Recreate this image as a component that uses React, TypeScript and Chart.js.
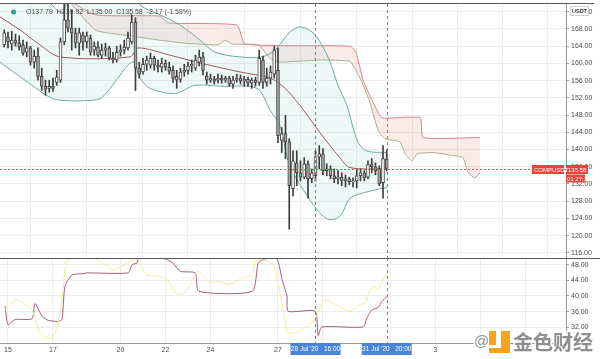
import React, { useEffect, useRef } from 'react';
import { Chart, registerables } from 'chart.js';
Chart.register(...registerables);

// ---- axis ticks (x in 4h-bar index units; bar 1 = 15 Jul 00:00) ----
const dayTicks = [1, 13, 31, 43, 55, 73, 85, 103, 115, 127, 139];
const dayLabels = ['15', '17', '20', '22', '24', '27', '', '', '3', '', ''];
const priceTicks = [116, 120, 124, 128, 132, 136, 140, 144, 148, 152, 156, 160, 164, 168, 172];
const oscTicks = [32, 36, 40, 44, 48];
const crosshairBars = [83, 102];
const crosshairLabels = ["28 Jul '20   16:00", "31 Jul '20   20:00"];
const lastPrice = 135.58;
const legendText = 'O137.79  H139.92  L135.00  C135.58  -2.17 (-1.58%)';

// ---- candles (4h) ----
const opens = [
  164.3, 166.1, 164.5, 165.4, 164.7, 164.3, 162.6, 163.6, 160.3, 161.7,
  157.0, 154.7, 154.2, 154.7, 155.6, 156.1, 165.0, 170.1, 168.2, 167.1,
  164.7, 166.6, 165.0, 165.9, 163.1, 163.8, 161.9, 163.1, 163.6, 161.2,
  160.8, 162.6, 163.1, 163.6, 165.0, 169.6, 158.9, 158.0, 159.8, 159.6,
  161.2, 159.6, 159.1, 160.1, 159.1, 158.4, 157.0, 156.3, 158.0, 158.4,
  159.4, 158.9, 160.3, 161.5, 157.0, 156.1, 156.3, 156.1, 156.6, 156.1,
  156.6, 155.2, 156.1, 156.6, 155.9, 156.3, 155.4, 156.1, 155.6, 160.8,
  155.6, 156.6, 157.5, 158.4, 142.1, 143.7, 141.8, 130.9, 136.9, 134.6,
  133.6, 136.7, 133.2, 133.9, 138.3, 139.0, 135.1, 135.5, 133.9, 133.2,
  133.6, 132.7, 133.2, 132.5, 132.7, 133.9, 134.6, 133.6, 136.5, 136.0,
  135.5, 132.3, 137.79,
];
const closes = [
  167.1, 165.0, 165.4, 164.7, 163.8, 162.4, 163.6, 160.3, 161.7, 157.0,
  154.7, 154.0, 154.7, 154.2, 156.8, 165.0, 170.1, 168.2, 167.1, 164.7,
  167.1, 165.0, 166.4, 162.6, 164.0, 161.9, 163.1, 163.6, 161.2, 160.8,
  162.6, 163.1, 163.8, 165.9, 169.6, 158.9, 157.5, 159.8, 160.8, 161.2,
  159.6, 159.1, 160.1, 159.1, 158.2, 156.6, 156.1, 158.0, 158.4, 159.4,
  159.8, 160.8, 161.5, 158.4, 156.1, 156.6, 155.9, 156.6, 156.1, 156.6,
  155.2, 156.1, 156.6, 155.9, 156.3, 155.4, 156.1, 155.6, 161.2, 155.6,
  156.6, 158.0, 163.1, 143.2, 143.7, 141.8, 131.6, 137.4, 134.6, 133.6,
  136.7, 133.2, 134.6, 138.3, 139.0, 135.1, 135.5, 133.9, 133.2, 133.6,
  132.7, 133.2, 132.5, 132.7, 133.9, 134.6, 133.4, 136.5, 136.0, 135.1,
  132.0, 137.9, 135.58,
];
const highs = [
  167.8, 167.3, 167.5, 166.8, 166.4, 165.4, 165.0, 164.0, 163.1, 163.6,
  158.9, 156.1, 156.1, 156.6, 158.4, 165.9, 174.1, 174.8, 172.4, 168.2,
  168.2, 167.3, 167.3, 166.6, 165.0, 165.0, 164.5, 164.7, 164.0, 162.6,
  164.0, 164.3, 165.4, 167.3, 171.3, 170.6, 160.3, 161.2, 161.7, 162.4,
  161.7, 160.8, 161.2, 160.8, 160.3, 159.4, 158.4, 158.9, 159.8, 160.3,
  160.8, 161.9, 163.1, 162.6, 158.0, 157.5, 157.0, 157.5, 157.3, 157.0,
  157.0, 157.0, 157.5, 157.3, 157.0, 156.8, 156.6, 156.8, 163.1, 161.7,
  158.9, 159.4, 164.0, 163.6, 145.1, 147.9, 142.5, 139.7, 139.7, 137.4,
  138.1, 137.4, 135.5, 139.7, 140.9, 140.2, 136.7, 136.2, 135.5, 135.1,
  134.6, 134.1, 133.6, 133.4, 135.5, 135.5, 135.1, 137.4, 137.9, 136.9,
  136.2, 140.9, 139.92,
];
const lows = [
  163.8, 163.6, 163.1, 164.0, 163.1, 161.9, 161.5, 159.6, 158.9, 156.1,
  153.7, 152.6, 153.3, 153.5, 154.9, 155.6, 164.3, 167.3, 163.1, 163.6,
  161.9, 163.1, 163.6, 161.9, 161.9, 161.5, 161.2, 161.7, 160.8, 160.1,
  160.3, 161.7, 162.2, 163.1, 164.5, 153.7, 156.6, 157.5, 158.4, 158.9,
  158.4, 158.0, 158.0, 158.4, 157.5, 155.6, 154.2, 155.6, 157.0, 157.5,
  158.0, 158.4, 159.4, 157.3, 155.2, 155.6, 155.2, 155.4, 155.4, 155.6,
  154.7, 154.2, 155.6, 155.2, 154.7, 154.7, 154.2, 154.7, 154.9, 154.2,
  154.7, 155.2, 156.6, 141.6, 139.3, 137.9, 121.5, 129.2, 131.6, 132.7,
  133.2, 128.7, 132.3, 132.7, 135.5, 134.1, 133.9, 133.2, 132.3, 132.0,
  131.6, 131.3, 131.8, 131.3, 131.1, 132.7, 132.7, 133.2, 134.6, 134.1,
  131.6, 128.7, 135.0,
];

// ---- Bollinger bands ----
const bbUpperX = [-1.13, 10.9, 13.5, 15.4, 16.5, 17.5, 33.5, 36.2, 41.5, 46.9, 52.2, 56.2, 62.9, 68.7, 72.2, 76.2, 78.9, 82.1, 84.7, 86.9, 89.0, 91.4, 94.1, 96.5, 102.1];
const bbUpper = [181.8, 175.2, 172.9, 171.7, 173.6, 179.4, 178.3, 173.6, 171.3, 168.9, 165.4, 162.6, 161.5, 161.5, 163.1, 167.3, 168.5, 167.3, 164.3, 160.3, 154.9, 150.2, 142.1, 139.7, 139.3];
const bbLowerX = [-1.13, 5.5, 12.2, 15.7, 22.9, 26.1, 33.0, 34.6, 36.2, 38.9, 45.5, 50.9, 57.5, 67.4, 70.9, 73.5, 76.2, 82.3, 86.3, 89.5, 92.2, 94.9, 100.2, 102.1];
const bbLower = [160.3, 156.1, 152.1, 151.4, 151.4, 152.1, 159.6, 160.3, 156.6, 154.2, 153.0, 154.9, 154.7, 154.2, 149.1, 145.6, 136.2, 127.3, 123.8, 124.5, 128.7, 129.7, 130.9, 131.1];
const basisX = [-1.13, 4.2, 9.5, 14.9, 33.5, 35.7, 44.2, 52.2, 62.9, 70.9, 74.9, 78.9, 84.2, 89.5, 92.2, 102.1];
const basis = [170.8, 167.8, 164.3, 161.5, 161.5, 163.6, 161.9, 160.1, 158.0, 156.6, 154.2, 150.2, 143.9, 138.1, 135.8, 135.5];

// ---- Ichimoku cloud ----
const cloudTopX = [14.9, 24.2, 41.5, 43.7, 62.1, 64.2, 92.2, 93.8, 95.7, 98.1, 100.7, 110.9, 111.7, 126.9];
const cloudTop = [176.0, 171.3, 171.0, 169.4, 168.9, 164.5, 164.0, 162.6, 156.1, 151.4, 147.4, 147.4, 142.8, 142.8];
const cloudBotX = [14.9, 24.2, 33.5, 41.5, 48.2, 57.0, 58.9, 60.7, 67.7, 70.9, 73.5, 84.2, 92.2, 93.8, 95.4, 97.5, 99.7, 101.5, 105.5, 106.9, 108.7, 110.1, 114.3, 119.7, 122.3, 123.7, 125.5, 126.9];
const cloudBot = [177.1, 167.8, 166.4, 165.4, 164.7, 164.3, 165.4, 164.5, 164.3, 161.2, 160.3, 160.8, 160.5, 158.4, 155.6, 151.0, 144.4, 142.5, 141.8, 139.0, 137.4, 139.0, 139.3, 138.6, 138.1, 134.6, 133.4, 134.6];

// ---- lower oscillator panel ----
const oscAX = [0.2, 1.0, 2.9, 7.4, 8.2, 10.1, 11.7, 14.3, 15.4, 16.2, 18.1, 21.0, 22.1, 33.0, 34.1, 35.4, 35.7, 42.9, 45.0, 46.9, 50.9, 51.9, 66.1, 67.7, 69.0, 69.5, 72.7, 74.1, 75.4, 75.7, 82.9, 83.7, 84.7, 95.7, 96.7, 98.1, 99.7, 100.7, 102.1];
const oscA = [37.4, 32.7, 34.0, 34.2, 38.1, 34.8, 33.8, 33.5, 34.0, 42.5, 45.4, 45.7, 45.9, 45.9, 48.0, 48.4, 49.5, 49.5, 48.4, 46.3, 45.9, 41.2, 41.2, 48.4, 49.3, 49.5, 49.5, 44.2, 39.9, 36.1, 36.1, 29.9, 32.1, 32.1, 34.4, 36.5, 37.0, 38.6, 39.9];
const oscBX = [0.2, 2.3, 3.4, 5.5, 7.4, 9.5, 11.7, 13.0, 14.3, 15.7, 17.0, 24.7, 29.0, 32.7, 35.4, 36.2, 38.1, 41.5, 43.4, 46.3, 48.7, 51.7, 54.9, 57.5, 59.7, 62.9, 66.1, 66.9, 67.7, 70.1, 71.7, 73.0, 74.1, 75.7, 78.9, 80.7, 82.3, 83.7, 85.0, 86.1, 92.2, 94.9, 96.2, 97.0, 98.3, 99.7, 100.7, 101.5, 102.1];
const oscB = [36.5, 38.6, 39.1, 37.8, 36.5, 30.6, 29.3, 29.7, 32.3, 41.6, 49.4, 49.4, 46.7, 48.4, 49.5, 48.0, 45.4, 45.0, 44.2, 40.3, 41.6, 46.3, 43.3, 43.7, 42.9, 44.2, 45.4, 48.8, 49.5, 48.8, 48.0, 43.3, 38.2, 30.6, 31.0, 32.3, 33.5, 35.7, 38.6, 38.9, 36.1, 37.8, 38.2, 40.3, 42.5, 41.6, 43.7, 45.0, 45.0];

const X_MIN = -1.13;
const X_MAX = 149.8;
const FONT = '"Liberation Sans", Arial, sans-serif';
const GRID = '#ececec';

const pts = (xs: number[], ys: number[]) => xs.map((x, i) => ({ x, y: ys[i] }));
const barIdx = opens.map((_, i) => i);

const xFitHidden = (s: any) => { s.height = 0; s.paddingLeft = 0; s.paddingRight = 0; };
const yFit = (s: any) => { s.width = 34; s.paddingTop = 0; s.paddingBottom = 0; };

export default function App() {
  const topRef = useRef<HTMLCanvasElement>(null);
  const botRef = useRef<HTMLCanvasElement>(null);

  useEffect(() => {
    const overlayTop = {
      id: 'overlayTop',
      afterDraw(chart: any) {
        const { ctx, chartArea, scales } = chart;
        const xs = scales.x, ys = scales.y;
        ctx.save();
        // top border
        ctx.strokeStyle = '#5a5a5a';
        ctx.lineWidth = 1;
        ctx.beginPath(); ctx.moveTo(0, 3.5); ctx.lineTo(594, 3.5); ctx.stroke();
        // price line
        const py = Math.round(ys.getPixelForValue(lastPrice)) + 0.5;
        ctx.setLineDash([2, 2]);
        ctx.strokeStyle = 'rgba(220,60,60,0.85)';
        ctx.beginPath(); ctx.moveTo(chartArea.left, py); ctx.lineTo(chartArea.right, py); ctx.stroke();
        // crosshair lines
        ctx.setLineDash([3, 3]);
        ctx.strokeStyle = '#808080';
        crosshairBars.forEach((b) => {
          const px = Math.round(xs.getPixelForValue(b)) + 0.5;
          ctx.beginPath(); ctx.moveTo(px, chartArea.top); ctx.lineTo(px, chartArea.bottom); ctx.stroke();
        });
        ctx.setLineDash([]);
        // legend
        ctx.fillStyle = '#26a69a';
        ctx.beginPath(); ctx.arc(13.5, 12, 2.5, 0, Math.PI * 2); ctx.fill();
        ctx.font = `7px ${FONT}`;
        ctx.fillStyle = '#4a4a4a';
        ctx.textBaseline = 'middle';
        ctx.textAlign = 'left';
        ctx.fillText(legendText, 26, 12.5);
        // last price labels
        ctx.fillStyle = '#e2463f';
        ctx.fillRect(532, py - 4.5, 32, 9);
        ctx.fillRect(566, py - 4.5, 22, 9);
        ctx.fillRect(566, py + 5, 19, 8);
        ctx.fillStyle = '#ffffff';
        ctx.font = `6px ${FONT}`;
        ctx.fillText('COMPUSDT', 534, py + 0.5);
        ctx.fillText(lastPrice.toFixed(2), 568, py + 0.5);
        ctx.fillText('01:27:11', 567, py + 9.5);
        // currency box
        ctx.fillStyle = '#ffffff';
        ctx.fillRect(570, 6, 19, 10);
        ctx.strokeStyle = '#cfcfcf';
        ctx.strokeRect(570.5, 6.5, 18, 9);
        ctx.fillStyle = '#333333';
        ctx.font = `bold 5.5px ${FONT}`;
        ctx.fillText('USDT', 572, 11.5);
        ctx.restore();
      },
    };

    const overlayBot = {
      id: 'overlayBot',
      afterDraw(chart: any) {
        const { ctx, chartArea, scales } = chart;
        const xs = scales.x;
        ctx.save();
        ctx.strokeStyle = '#5a5a5a';
        ctx.lineWidth = 1;
        ctx.beginPath(); ctx.moveTo(0, 0.5); ctx.lineTo(600, 0.5); ctx.stroke();
        ctx.setLineDash([3, 3]);
        ctx.strokeStyle = '#808080';
        crosshairBars.forEach((b) => {
          const px = Math.round(xs.getPixelForValue(b)) + 0.5;
          ctx.beginPath(); ctx.moveTo(px, chartArea.top); ctx.lineTo(px, chartArea.bottom); ctx.stroke();
        });
        ctx.setLineDash([]);
        // date boxes
        ctx.font = `6.5px ${FONT}`;
        ctx.textBaseline = 'middle';
        ctx.textAlign = 'center';
        crosshairBars.forEach((b, i) => {
          const px = xs.getPixelForValue(b);
          ctx.fillStyle = '#4a84d8';
          ctx.fillRect(px - 25, chartArea.bottom, 50, 12);
          ctx.fillStyle = '#ffffff';
          ctx.fillText(crosshairLabels[i], px, chartArea.bottom + 6.5);
        });
        // watermark
        ctx.textAlign = 'left';
        ctx.font = `15px ${FONT}`;
        ctx.lineWidth = 3;
        ctx.strokeStyle = '#ffffff';
        ctx.fillStyle = '#8f8f8f';
        ctx.strokeText('@', 474, 84);
        ctx.fillText('@', 474, 84);
        ctx.fillStyle = '#f5a51c';
        ctx.fillRect(489, 73, 21, 22);
        ctx.fillStyle = '#ffffff';
        ctx.fillRect(496, 73, 5, 14);
        ctx.fillRect(489, 87, 12, 3);
        ctx.font = `bold 20px "Noto Sans CJK SC", sans-serif`;
        ctx.strokeText('金色财经', 513, 84);
        ctx.fillStyle = '#8f8f8f';
        ctx.fillText('金色财经', 513, 84);
        ctx.restore();
      },
    };

    const c1 = new Chart(topRef.current!, {
      type: 'line',
      data: {
        datasets: [
          {
            type: 'line', data: pts(bbUpperX, bbUpper), borderColor: '#6aa9a0', borderWidth: 1,
            pointRadius: 0, tension: 0.3, fill: '+1', backgroundColor: 'rgba(160,214,208,0.18)', order: 3,
          },
          {
            type: 'line', data: pts(bbLowerX, bbLower), borderColor: '#6aa9a0', borderWidth: 1,
            pointRadius: 0, tension: 0.3, fill: false, order: 3,
          },
          {
            type: 'line', data: pts(basisX, basis), borderColor: '#9c5a5a', borderWidth: 1,
            pointRadius: 0, tension: 0.3, fill: false, order: 2,
          },
          {
            type: 'line', data: pts(cloudTopX, cloudTop), borderColor: '#d9828a', borderWidth: 1,
            pointRadius: 0, tension: 0.15, fill: '+1', backgroundColor: 'rgba(236,150,150,0.2)', order: 4,
          },
          {
            type: 'line', data: pts(cloudBotX, cloudBot), borderColor: '#a3ad8c', borderWidth: 1,
            pointRadius: 0, tension: 0.15, fill: false, order: 4,
          },
          {
            type: 'bar', data: barIdx.map((x, i) => ({ x, y: [lows[i], highs[i]] })) as any,
            backgroundColor: '#3c3c3c', borderWidth: 0, barThickness: 1, grouped: false, order: 1,
          },
          {
            type: 'bar', data: barIdx.map((x, i) => ({ x, y: [opens[i], closes[i]] })) as any,
            backgroundColor: barIdx.map((i) => (closes[i] >= opens[i] ? '#ffffff' : '#a6a6a6')),
            borderColor: '#444444', borderWidth: 1, borderSkipped: false, barThickness: 3,
            grouped: false, order: 0,
          },
        ] as any,
      },
      options: {
        animation: false,
        responsive: true,
        maintainAspectRatio: false,
        layout: { padding: { top: 4, left: 0, right: 0, bottom: 0 } },
        plugins: { legend: { display: false }, tooltip: { enabled: false } },
        scales: {
          x: {
            type: 'linear', min: X_MIN, max: X_MAX, offset: false,
            afterBuildTicks: (s: any) => { s.ticks = dayTicks.map((v) => ({ value: v })); },
            afterFit: xFitHidden,
            ticks: { display: false },
            grid: { color: GRID, drawTicks: false },
            border: { display: false },
          },
          y: {
            type: 'linear', position: 'right', min: 114.8, max: 173.8,
            afterBuildTicks: (s: any) => { s.ticks = priceTicks.map((v) => ({ value: v })); },
            afterFit: yFit,
            ticks: { font: { size: 7, family: FONT }, color: '#4a4a4a', padding: 2, callback: (v: any) => Number(v).toFixed(2) },
            grid: { color: GRID, tickLength: 3, tickColor: '#9a9a9a' },
            border: { display: true, color: '#9a9a9a' },
          },
        },
      } as any,
      plugins: [overlayTop],
    });

    const c2 = new Chart(botRef.current!, {
      type: 'line',
      data: {
        datasets: [
          { data: pts(oscBX, oscB), borderColor: '#f1eb9c', borderWidth: 1, pointRadius: 0, tension: 0.2, fill: false },
          { data: pts(oscAX, oscA), borderColor: '#a9587f', borderWidth: 1, pointRadius: 0, tension: 0.2, fill: false },
        ],
      },
      options: {
        animation: false,
        responsive: true,
        maintainAspectRatio: false,
        layout: { padding: 0 },
        plugins: { legend: { display: false }, tooltip: { enabled: false } },
        scales: {
          x: {
            type: 'linear', min: X_MIN, max: X_MAX, offset: false,
            afterBuildTicks: (s: any) => { s.ticks = dayTicks.map((v) => ({ value: v })); },
            afterFit: (s: any) => { s.height = 16; s.paddingLeft = 0; s.paddingRight = 0; },
            ticks: {
              autoSkip: false, maxRotation: 0, padding: 3,
              font: { size: 7, family: FONT }, color: '#4a4a4a',
              callback: (_v: any, i: number) => dayLabels[i],
            },
            grid: { color: GRID, drawTicks: false },
            border: { display: true, color: '#9a9a9a' },
          },
          y: {
            type: 'linear', position: 'right', min: 28.0, max: 49.7,
            afterBuildTicks: (s: any) => { s.ticks = oscTicks.map((v) => ({ value: v })); },
            afterFit: yFit,
            ticks: { font: { size: 7, family: FONT }, color: '#4a4a4a', padding: 2, callback: (v: any) => Number(v).toFixed(2) },
            grid: { color: GRID, tickLength: 3, tickColor: '#9a9a9a' },
            border: { display: true, color: '#9a9a9a' },
          },
        },
      } as any,
      plugins: [overlayBot],
    });

    return () => { c1.destroy(); c2.destroy(); };
  }, []);

  return (
    <div style={{ position: 'fixed', left: 0, top: 0, width: 600, height: 359, background: '#ffffff' }}>
      <div style={{ position: 'absolute', left: 0, top: 0, width: 600, height: 258 }}>
        <canvas ref={topRef} />
      </div>
      <div style={{ position: 'absolute', left: 0, top: 258, width: 600, height: 101 }}>
        <canvas ref={botRef} />
      </div>
    </div>
  );
}
